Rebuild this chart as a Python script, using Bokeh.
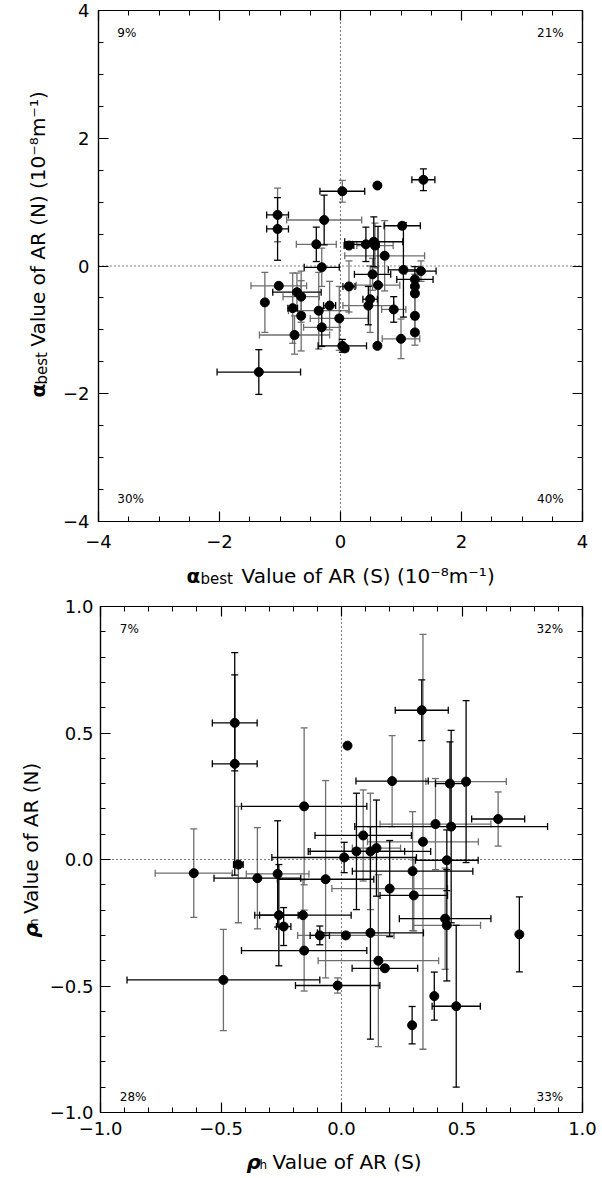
import math
from bokeh.plotting import figure
from bokeh.models import (ColumnDataSource, Whisker, TeeHead, Span, Label,
                          FixedTicker, Range1d, LinearAxis)
from bokeh.layouts import column, row
from bokeh.embed import file_html
from bokeh.resources import INLINE
from bokeh.core.properties import value

# ---------------- top panel: alpha_best (S) vs alpha_best (N) ----------------
a_s = [1.37, 0.61, 0.03, -1.04, -1.04, -0.27, -0.40, 0.14, 0.42, 0.55, 0.57, 1.02, 0.73,
       1.04, 1.33, 1.23, 1.23, 1.23, 1.23, 1.23, 1.00, 0.61, 0.62, 0.14, 0.03, 0.07, 0.46,
       0.49, 0.53, 0.88,
       -0.31, -1.02, -1.25, -0.72, -0.65, -0.79, -0.65, -0.36, -0.18, -0.31, -0.02, -0.76, -1.35]
a_n = [1.35, 1.26, 1.17, 0.80, 0.58, 0.72, 0.34, 0.32, 0.34, 0.38, 0.32, 0.63, 0.16,
       -0.06, -0.08, -0.21, -0.32, -0.43, -0.78, -1.04, -1.14, -1.25, -0.30, -0.32, -1.25, -1.29, -0.62,
       -0.52, -0.13, -0.68,
       -0.02, -0.31, -0.57, -0.41, -0.48, -0.66, -0.78, -0.70, -0.62, -0.96, -0.82, -1.08, -1.66]
a_s_err = [0.19, 0.0, 0.37, 0.18, 0.18, 0.62, 0.33, 0.08, 0.22, 0.48, 0.30, 0.30, 0.66,
           0.25, 0.25, 0.30, 0.0, 0.0, 0.0, 0.0, 0.31, 0.0, 0.36, 0.10, 0.40, 0.05, 0.42,
           0.12, 0.30, 0.20,
           0.29, 0.46, 0.0, 0.40, 0.30, 0.08, 0.05, 0.50, 0.10, 0.30, 0.48, 0.58, 0.69]
a_n_err = [0.17, 0.0, 0.17, 0.42, 0.49, 0.39, 0.27, 0.0, 0.27, 0.39, 0.35, 0.05, 0.55,
           0.74, 0.16, 0.20, 0.15, 0.30, 0.30, 0.20, 0.31, 0.0, 0.92, 0.40, 0.10, 0.05, 0.30,
           0.52, 0.25, 0.20,
           0.30, 0.0, 0.47, 0.30, 0.40, 0.55, 0.55, 0.60, 0.38, 0.30, 0.50, 0.30, 0.35]
a_xcol = list("kkkkkggkkkgkgkkkkkkggkgkkkgkkg" + "kggkgkkgkggg" + "k")
a_ycol = list("kkggkkkkkkgkgkgkggggggkgkkkggk" + "gggggggggkggk")
a_ticks = [-4, -2, 0, 2, 4]
a_labels = ["\u22124", "\u22122", "0", "2", "4"]
a_pct = ["9%", "21%", "30%", "40%"]

# ---------------- bottom panel: rho_h (S) vs rho_h (N) ----------------
r_s = [-0.443, -0.443, -0.155,
       0.025, 0.333, 0.21, 0.45, 0.517, 0.65, 0.39, 0.455, 0.09, 0.338, 0.062, 0.12, 0.145, 0.011,
       -0.613, -0.428, -0.349, -0.265, -0.066, -0.26, -0.16, -0.24, -0.09, -0.155, -0.49, -0.016,
       0.437, 0.295, 0.20, 0.30, 0.43, 0.437, 0.738, 0.018, 0.12, 0.153, 0.18, 0.385, 0.476, 0.293]
r_n = [0.54, 0.378, 0.21,
       0.45, 0.59, 0.31, 0.30, 0.308, 0.16, 0.14, 0.13, 0.095, 0.07, 0.032, 0.032, 0.045, 0.008,
       -0.054, -0.02, -0.074, -0.057, -0.078, -0.22, -0.22, -0.265, -0.30, -0.36, -0.476, -0.498,
       -0.003, -0.046, -0.115, -0.142, -0.234, -0.26, -0.296, -0.30, -0.29, -0.40, -0.43, -0.54, -0.58, -0.655]
r_s_err = [0.093, 0.093, 0.26,
           0.0, 0.11, 0.15, 0.06, 0.167, 0.11, 0.23, 0.40, 0.20, 0.23, 0.20, 0.25, 0.10, 0.30,
           0.16, 0.02, 0.18, 0.13, 0.20, 0.08, 0.20, 0.03, 0.04, 0.26, 0.40, 0.175,
           0.13, 0.25, 0.24, 0.14, 0.19, 0.14, 0.0, 0.20, 0.22, 0.25, 0.136, 0.0, 0.10, 0.0]
r_n_err = [0.19, 0.44, 0.31,
           0.0, 0.12, 0.18, 0.165, 0.32, 0.107, 0.18, 0.38, 0.18, 0.82, 0.23, 0.23, 0.19, 0.06,
           0.175, 0.23, 0.20, 0.21, 0.39, 0.20, 0.14, 0.075, 0.037, 0.16, 0.20, 0.03,
           0.12, 0.235, 0.19, 0.14, 0.20, 0.22, 0.148, 0.0, 0.42, 0.34, 0.0, 0.095, 0.32, 0.074]
r_xcol = list("kkk" + "kkkkgkgkkgkkgk" + "gkkgkkkkkkkk" + "kkgkkgkgkgkkkk")
r_ycol = list("kkg" + "kkgkkggkggkgkk" + "gggkgkgkkggg" + "kgkggkkkkgkkkk")
r_ticks = [-1.0, -0.5, 0.0, 0.5, 1.0]
r_labels = ["\u22121.0", "\u22120.5", "0.0", "0.5", "1.0"]
r_pct = ["7%", "32%", "28%", "33%"]

FONT = "DejaVu Sans"
GRAY = "#6e6e6e"
FRAME_W = 484
PAGE_W = 602


def make_fig(width, lim, ticks, labels, minor_step, left, top, frame_h, bottom,
             x_standoff, y_standoff):
    p = figure(width=width, height=top + frame_h + bottom,
               x_range=Range1d(-lim, lim), y_range=Range1d(-lim, lim),
               output_backend="svg", toolbar_location=None,
               min_border_left=left, min_border_right=width - left - FRAME_W,
               min_border_top=top, min_border_bottom=bottom,
               x_axis_location=None, y_axis_location=None)
    p.grid.visible = False
    p.outline_line_color = "black"
    p.outline_line_width = 1.2
    n_minor = int(round(2 * lim / minor_step))
    minors = [-lim + i * minor_step for i in range(n_minor + 1)]
    for place in ("below", "left", "above", "right"):
        ax = LinearAxis(ticker=FixedTicker(ticks=ticks, minor_ticks=minors))
        ax.axis_line_color = "black"
        ax.axis_line_width = 1.2
        ax.major_tick_in = 10
        ax.major_tick_out = 0
        ax.minor_tick_in = 5
        ax.minor_tick_out = 0
        ax.major_tick_line_color = "black"
        ax.minor_tick_line_color = "black"
        ax.major_tick_line_width = 1.2
        ax.minor_tick_line_width = 1.0
        if place in ("below", "left"):
            ax.major_label_overrides = {t: l for t, l in zip(ticks, labels)}
            ax.major_label_text_font = FONT
            ax.major_label_text_font_size = "18px"
            ax.major_label_text_color = "black"
            ax.major_label_standoff = x_standoff if place == "below" else y_standoff
        else:
            ax.major_label_overrides = {t: "" for t in ticks}
            ax.major_label_text_font_size = "1px"
            ax.major_label_standoff = 0
        p.add_layout(ax, place)
    p.add_layout(Span(location=0, dimension="height", line_color="black",
                      line_dash="1 3", line_width=1))
    p.add_layout(Span(location=0, dimension="width", line_color="black",
                      line_dash="1 3", line_width=1))
    return p


def add_errors(p, xs, ys, exs, eys, xcol, ycol):
    for code, color in (("g", GRAY), ("k", "black")):
        for dim, errs, cols in (("width", exs, xcol), ("height", eys, ycol)):
            idx = [i for i in range(len(xs)) if errs[i] > 0 and cols[i] == code]
            if not idx:
                continue
            if dim == "width":
                base = [ys[i] for i in idx]
                lower = [xs[i] - errs[i] for i in idx]
                upper = [xs[i] + errs[i] for i in idx]
            else:
                base = [xs[i] for i in idx]
                lower = [ys[i] - errs[i] for i in idx]
                upper = [ys[i] + errs[i] for i in idx]
            src = ColumnDataSource(dict(base=base, lower=lower, upper=upper))
            p.add_layout(Whisker(source=src, base="base", lower="lower", upper="upper",
                                 dimension=dim, line_color=color, line_width=1.3,
                                 lower_head=TeeHead(size=7, line_color=color, line_width=1.3),
                                 upper_head=TeeHead(size=7, line_color=color, line_width=1.3)))
    p.scatter(xs, ys, size=9, color="black", marker="circle")


def add_pct(p, pct, px, py_top, py_bottom):
    spots = [(-px, py_top, "left"), (px, py_top, "right"),
             (-px, py_bottom, "left"), (px, py_bottom, "right")]
    for txt, (x, y, al) in zip(pct, spots):
        p.add_layout(Label(x=x, y=y, text=txt, text_font=FONT, text_font_size="12px",
                           text_align=al, text_baseline="middle", text_color="black"))


def title_fig(width, height, cx, cy, pieces, vertical):
    """pieces: (text, font size, style, advance px, gap after px, subscript drop px)"""
    f = figure(width=width, height=height, x_range=Range1d(0, width),
               y_range=Range1d(0, height), output_backend="svg", toolbar_location=None,
               min_border=0, x_axis_location=None, y_axis_location=None)
    f.grid.visible = False
    f.outline_line_color = None
    total = sum(pc[3] + pc[4] for pc in pieces)
    pos = -total / 2.0
    for text, size, style, adv, gap, drop in pieces:
        if vertical:
            f.text(x=[cx + drop], y=[cy + pos], text=[text], angle=math.pi / 2,
                   text_font=value(FONT), text_font_size=value(size),
                   text_font_style=style, text_align="left",
                   text_baseline="middle", text_color="black")
        else:
            f.text(x=[cx + pos], y=[cy - drop], text=[text],
                   text_font=value(FONT), text_font_size=value(size),
                   text_font_style=style, text_align="left",
                   text_baseline="alphabetic", text_color="black")
        pos += adv + gap
    return f


unit = "(10\u207b\u2078m\u207b\u00b9)"

# top block
p1 = make_fig(PAGE_W - 58, 4, a_ticks, a_labels, 0.5, 40, 10, 511, 33, 13, 9)
add_errors(p1, a_s, a_n, a_s_err, a_n_err, a_xcol, a_ycol)
add_pct(p1, a_pct, 3.69, 3.65, -3.65)
ylab1 = title_fig(58, 554, 37, 288.5,
                  [("\u03b1", "20px", "bold", 14, 0, 0), ("best", "15px", "normal", 32, 9, 4),
                   ("Value of AR (N) " + unit, "20px", "normal", 253, 0, 0)], True)
xlab1 = title_fig(PAGE_W, 32, 340, 11,
                  [("\u03b1", "20px", "bold", 14, 0, 0), ("best", "15px", "normal", 32, 9, 3),
                   ("Value of AR (S) " + unit, "20px", "normal", 253, 0, 0)], False)

# bottom block
p2 = make_fig(PAGE_W - 46, 1.0, r_ticks, r_labels, 0.1, 52, 20, 506, 30, 9, 7)
add_errors(p2, r_s, r_n, r_s_err, r_n_err, r_xcol, r_ycol)
add_pct(p2, r_pct, 0.92, 0.91, -0.94)
ylab2 = title_fig(46, 556, 30, 283,
                  [("\u03c1", "20px", "bold italic", 13, 0, 0), ("h", "12px", "normal", 8, 5, 3),
                   ("Value of AR (N)", "20px", "normal", 156, 0, 0)], True)
xlab2 = title_fig(PAGE_W, 34, 337, 15,
                  [("\u03c1", "20px", "bold italic", 13, 0, 0), ("h", "12px", "normal", 8, 5, 3),
                   ("Value of AR (S)", "20px", "normal", 156, 0, 0)], False)

layout = column(row(ylab1, p1, spacing=0), xlab1, row(ylab2, p2, spacing=0), xlab2, spacing=0)
open("out.html", "w").write(file_html(layout, INLINE))
